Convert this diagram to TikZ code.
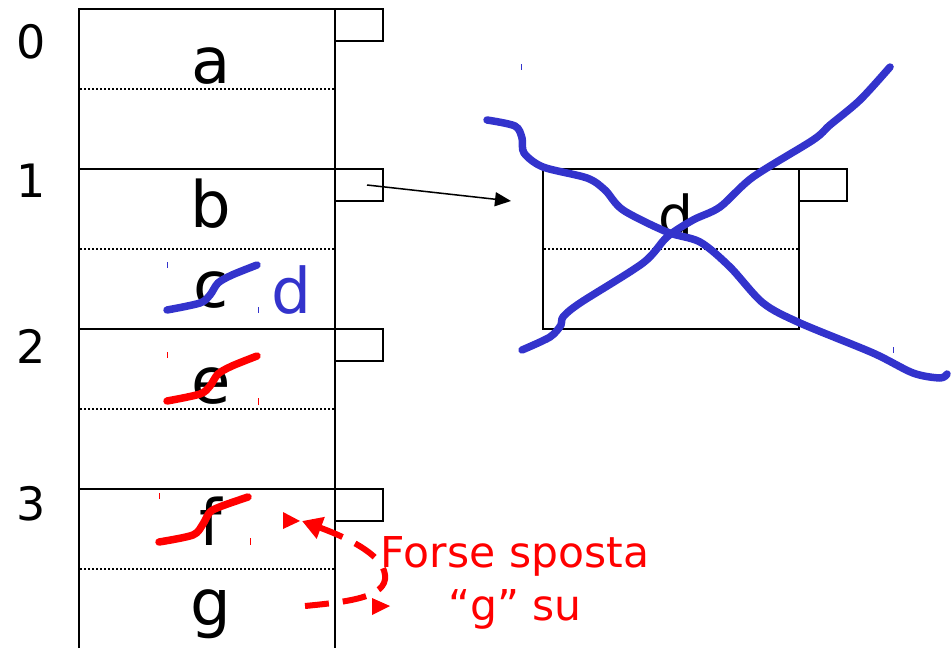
\documentclass[tikz,border=0pt]{standalone}
\usepackage{fontspec}
\setmainfont{DejaVu Sans}
\usetikzlibrary{arrows.meta}
\definecolor{scribblue}{RGB}{51,51,204}
\definecolor{notered}{RGB}{255,0,0}

\begin{document}
\begin{tikzpicture}[x=1pt,y=-1pt,
    frame/.style={draw,line width=2pt},
    half/.style={line width=2pt,dash pattern=on 2pt off 2pt},
    cell/.style={anchor=base,font=\fontsize{64}{64}\selectfont},
    idx/.style={anchor=base,font=\fontsize{46}{46}\selectfont},
    scrib/.style={line width=7.5pt,line cap=round,line join=round},
    tick/.style={line width=1pt},
    note/.style={anchor=base,text=notered,font=\fontsize{42.5}{42.5}\selectfont}]
  \useasboundingbox (0,0) rectangle (952,648);

  % bucket table
  \draw[frame] (79,648) -- (79,9) -- (335,9) -- (335,648);
  \foreach \y in {169,329,489}
    \draw[frame] (79,\y) -- (335,\y);
  \foreach \y in {9,169,329,489}
    \draw[frame] (335,\y) rectangle (383,\y+32);
  \foreach \y in {89,249,409,569}
    \draw[half] (80,\y) -- (334,\y);

  \node[idx] (i0) at (31,58) {0};
  \node[idx] (i1) at (31,197) {1};
  \node[idx] (i2) at (31,363) {2};
  \node[idx] (i3) at (31,520) {3};

  \node[cell] (ka) at (211,83) {a};
  \node[cell] (kb) at (211,227) {b};
  \node[cell] (kc) at (211,307) {c};
  \node[cell] (ke) at (211,403) {e};
  \node[cell] (kf) at (211,545) {f};
  \node[cell] (kg) at (211,625) {g};

  % overflow bucket
  \draw[frame] (543,169) rectangle (799,329);
  \draw[frame] (799,169) rectangle (847,201);
  \draw[half] (544,249) -- (798,249);
  \node[cell,font=\fontsize{55}{55}\selectfont] (kd) at (676,235) {d};

  \coordinate (ptr) at (367,185);
  \coordinate (ovf) at (511,201);
  \draw[line width=1.5pt,-{Triangle[length=16pt,width=14pt]}] (ptr) -- (ovf);

  % deletions
  \draw[scrib,scribblue] plot[smooth,tension=0.5] coordinates {(487,120) (515,126) (522,138) (524,153) (543,167) (587,178) (605,190) (623,210) (667,232) (700,242) (730,267) (763,303) (800,323) (873,353) (913,373) (940,378) (947,374)};
  \draw[scrib,scribblue] plot[smooth,tension=0.5] coordinates {(522,350) (550,337) (561,325) (563,317) (580,303) (643,263) (667,237) (693,220) (720,207) (753,177) (813,140) (830,125) (860,100) (890,67)};
  \draw[scrib,scribblue] plot[smooth,tension=0.5] coordinates {(167,310) (200,303) (210,295) (218,283) (232,275) (257,265)};
  \draw[scrib,notered] plot[smooth,tension=0.5] coordinates {(167,401) (200,394) (210,386) (218,374) (232,366) (257,356)};
  \draw[scrib,notered] plot[smooth,tension=0.5] coordinates {(159,542) (193,535) (203,524) (210,512) (222,506) (248,497)};
  \node[anchor=base,text=scribblue,font=\fontsize{63}{63}\selectfont] (nd) at (291,313) {d};

  \draw[tick,scribblue] (167,262) -- (167,268);
  \draw[tick,scribblue] (258,307) -- (258,313);
  \draw[tick,scribblue] (521,64) -- (521,70);
  \draw[tick,scribblue] (893,347) -- (893,353);
  \draw[tick,notered] (167,352) -- (167,358);
  \draw[tick,notered] (258,398) -- (258,405);
  \draw[tick,notered] (159,493) -- (159,499);
  \draw[tick,notered] (250,538) -- (250,545);

  % move g up
  \coordinate (gfrom) at (305,606);
  \coordinate (gto) at (302,521);
  \draw[notered,line width=6pt,dash pattern=on 24pt off 14pt,-{Triangle[length=20pt,width=22pt]}]
    (gfrom) .. controls (345,602) and (388,598) .. (385,575)
    .. controls (383,553) and (340,535) .. (gto);
  \fill[notered] (283,512) -- (300,521) -- (283,529) -- cycle;
  \fill[notered] (372,598) -- (390,606) -- (372,615) -- cycle;

  \node[note] (n1) at (515,567) {Forse sposta};
  \node[note] (n2) at (515,620) {“g” su};
\end{tikzpicture}
\end{document}
